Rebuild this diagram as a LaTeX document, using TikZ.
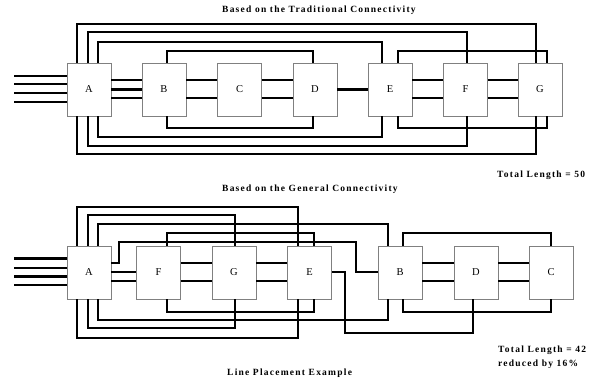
\documentclass[tikz,border=0pt]{standalone}
\usepackage{fontspec}
\setmainfont{Liberation Serif}
\usetikzlibrary{calc}
\tikzset{
  blk/.style={draw=black!50, line width=0.9pt, fill=white, minimum width=44pt, minimum height=53pt, inner sep=0pt, font=\fontsize{10.5}{11}\selectfont},
  wire/.style={line width=2pt},
  fatwire/.style={line width=3pt},
  caption/.style={font=\fontsize{9.5}{14}\selectfont\bfseries\addfontfeatures{LetterSpace=13}, inner sep=0pt},
}
\begin{document}
\begin{tikzpicture}[x=1pt, y=1pt]
\useasboundingbox (0,0) rectangle (603,385);
% traditional order of the blocks
\foreach \x/\lab in {89/A, 164/B, 239.5/C, 315/D, 390/E, 465.5/F, 540/G}{
    \node[blk] (t\lab) at (\x, 295.5) {\lab};
}
\coordinate (tin) at (14, 295.5);
\foreach \dy in {13.5, 5.5, -3.5, -12.5}{
    \draw[wire] ([yshift=\dy pt]tin) -- ([yshift=\dy pt]tA.west);
}
% neighbours: two lines each, one fat line for A-B and D-E
\foreach \a/\b in {A/B, B/C, C/D, E/F, F/G}{
    \foreach \dy in {9, -9}{
        \draw[wire] ([yshift=\dy pt]t\a.east) -- ([yshift=\dy pt]t\b.west);
    }
}
\draw[fatwire] (tA.east) -- (tB.west);
\draw[fatwire] (tD.east) -- (tE.west);
% long lines, routed over and under the row
\foreach \a/\da/\b/\db/\up/\dn in {A/-12/G/-4/39/38, A/-1/F/1.5/31/30, A/9/E/-8/21/21, B/3/D/-2/12/12, E/8/G/7/12/12}{
    \draw[wire] ([xshift=\da pt]t\a.north) -- ++(0, \up) -| ([xshift=\db pt]t\b.north);
    \draw[wire] ([xshift=\da pt]t\a.south) -- ++(0, -\dn) -| ([xshift=\db pt]t\b.south);
}
\node[caption, anchor=west] (ttitle) at (222, 375) {Based on the Traditional Connectivity};
\node[caption, anchor=west] (ttotal) at (497, 210) {Total Length = 50};
% general order of the blocks
\foreach \x/\lab in {89/A, 158.5/F, 234/G, 309.5/E, 400/B, 476/D, 551/C}{
    \node[blk] (b\lab) at (\x, 112.5) {\lab};
}
\coordinate (bin) at (14, 112.5);
\foreach \dy/\w in {13.5/3, 4.5/2, -4.5/3, -12.5/2}{
    \draw[line width=\w pt] ([yshift=\dy pt]bin) -- ([yshift=\dy pt]bA.west);
}
\foreach \dy in {0, -8.5}{
    \draw[wire] ([yshift=\dy pt]bA.east) -- ([yshift=\dy pt]bF.west);
}
\foreach \a/\b in {F/G, G/E, B/D, D/C}{
    \foreach \dy in {9, -9}{
        \draw[wire] ([yshift=\dy pt]b\a.east) -- ([yshift=\dy pt]b\b.west);
    }
}
\foreach \a/\da/\b/\db/\up/\dn in {A/-12/E/-11.5/39/38.5, A/-1/G/1/31/29, A/9/B/-12/21.5/21, F/8.5/E/4.5/13/13, B/3/C/0/13/13}{
    \draw[wire] ([xshift=\da pt]b\a.north) -- ++(0, \up) -| ([xshift=\db pt]b\b.north);
    \draw[wire] ([xshift=\da pt]b\a.south) -- ++(0, -\dn) -| ([xshift=\db pt]b\b.south);
}
% the two lines that jog round
\draw[wire] ([yshift=9.5pt]bA.east) -- ++(8, 0) |- ($(bB.west) + (-22, 30.5)$) |- (bB.west);
\draw[wire] (bE.east) -- ++(13, 0) |- ($(bD.south) + (-3, -34)$) -- ([xshift=-3pt]bD.south);
\node[caption, anchor=west] (btitle) at (222, 196) {Based on the General Connectivity};
\node[caption, anchor=west, align=left] (btotal) at (498, 28) {Total Length = 42\\reduced by 16\%};
\node[caption, anchor=west] (bexample) at (227, 12) {Line Placement Example};
\end{tikzpicture}
\end{document}
